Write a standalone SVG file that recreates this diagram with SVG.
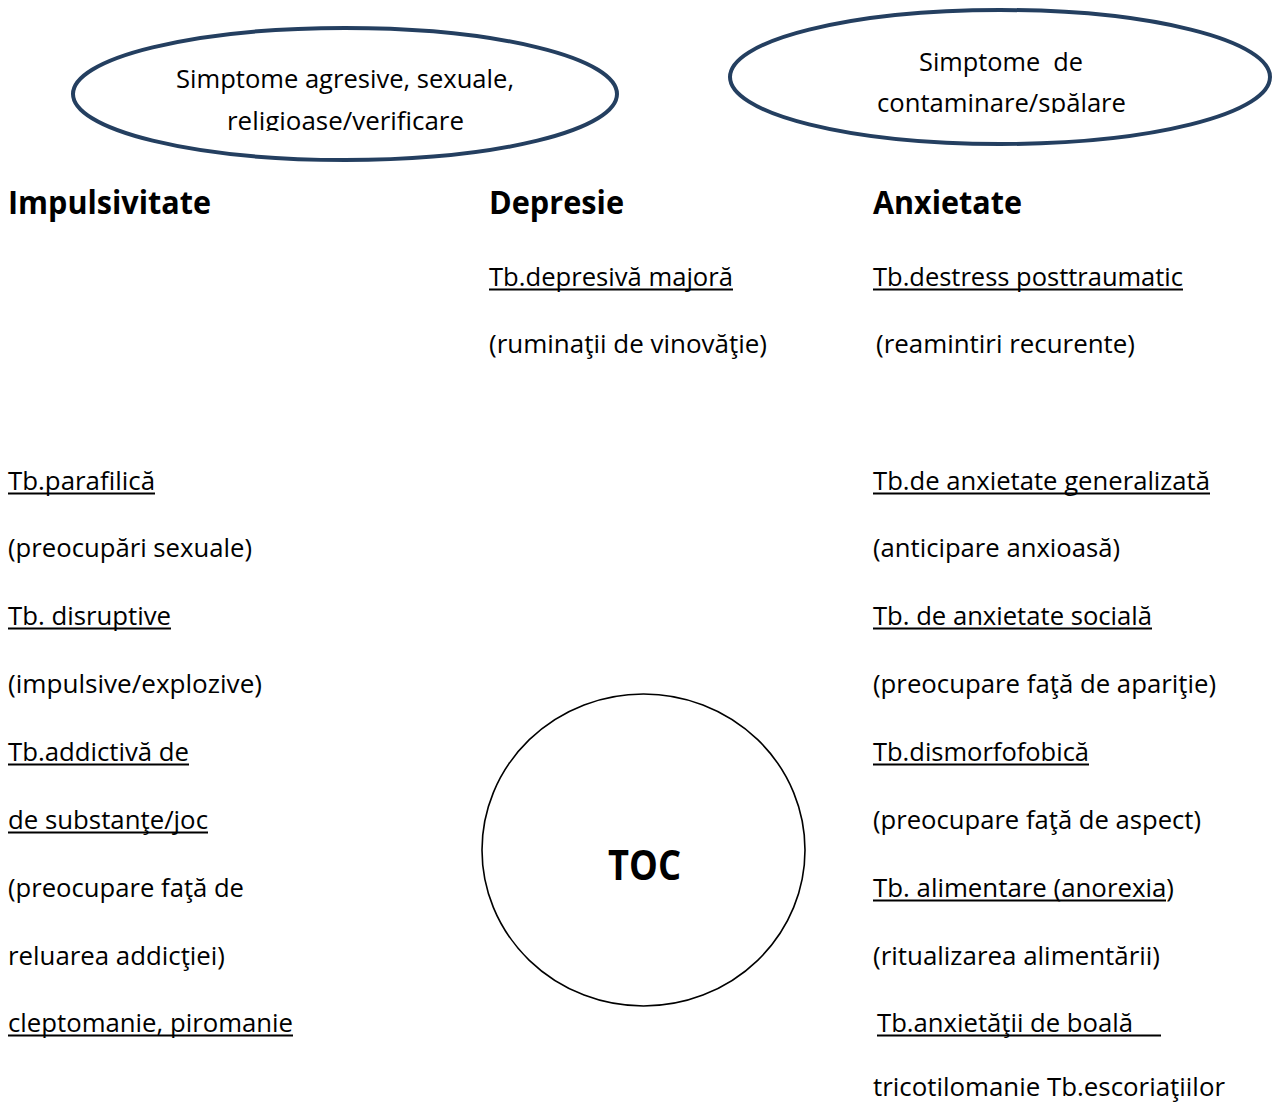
<svg xmlns="http://www.w3.org/2000/svg" width="1273" height="1103" viewBox="0 0 1273 1103">
  <defs>
    <style>
      text { font-family: "Open Sans", "Noto Sans", "Liberation Sans", sans-serif; fill: #000; white-space: pre; }
      .t { font-size: 25px; }
      .h { font-size: 32px; font-weight: bold; }
      .toc { font-size: 42px; font-weight: bold; }
      .ov { fill: #fff; stroke: #243f60; stroke-width: 4; }
      .ring { fill: #fff; stroke: #000; stroke-width: 1.6; }
      .ul { stroke: #000; stroke-width: 2; }
    </style>
    <clipPath id="clipA"><rect x="80" y="40" width="530" height="91"/></clipPath>
    <clipPath id="clipB"><rect x="740" y="25" width="520" height="88"/></clipPath>
  </defs>

  <rect width="1273" height="1103" fill="#fff"/>

  <!-- symptom ovals -->
  <g id="oval-agresive">
    <ellipse class="ov" cx="345" cy="94" rx="272" ry="66"/>
    <g clip-path="url(#clipA)">
      <text class="t" x="176" y="88" textLength="338" lengthAdjust="spacingAndGlyphs">Simptome agresive, sexuale,</text>
      <text class="t" x="227" y="130" textLength="237" lengthAdjust="spacingAndGlyphs">religioase/verificare</text>
    </g>
  </g>
  <g id="oval-contaminare">
    <ellipse class="ov" cx="1000" cy="77" rx="270" ry="67"/>
    <g clip-path="url(#clipB)">
      <text class="t" x="919" y="71" textLength="164" lengthAdjust="spacingAndGlyphs" xml:space="preserve">Simptome  de</text>
      <text class="t" x="877" y="112" textLength="249" lengthAdjust="spacingAndGlyphs">contaminare/spălare</text>
    </g>
  </g>

  <!-- column headings -->
  <g id="heading-impulsivitate"><text class="h" x="8" y="214" textLength="203" lengthAdjust="spacingAndGlyphs">Impulsivitate</text></g>
  <g id="heading-depresie"><text class="h" x="489" y="214" textLength="135" lengthAdjust="spacingAndGlyphs">Depresie</text></g>
  <g id="heading-anxietate"><text class="h" x="873" y="214" textLength="149" lengthAdjust="spacingAndGlyphs">Anxietate</text></g>

  <!-- depression column -->
  <g id="depresie-majora">
    <text class="t" x="489" y="286" textLength="244" lengthAdjust="spacingAndGlyphs">Tb.depresivă majoră</text>
    <line class="ul" x1="489" y1="289.5" x2="733" y2="289.5"/>
    <text class="t" x="489" y="353" textLength="278" lengthAdjust="spacingAndGlyphs">(ruminaţii de vinovăţie)</text>
  </g>

  <!-- impulsivity column -->
  <g id="impulsivitate-list">
    <text class="t" x="8" y="490" textLength="147" lengthAdjust="spacingAndGlyphs">Tb.parafilică</text>
    <line class="ul" x1="8" y1="493.5" x2="155" y2="493.5"/>
    <text class="t" x="8" y="557" textLength="244" lengthAdjust="spacingAndGlyphs">(preocupări sexuale)</text>
    <text class="t" x="8" y="625" textLength="163" lengthAdjust="spacingAndGlyphs">Tb. disruptive</text>
    <line class="ul" x1="8" y1="628.5" x2="171" y2="628.5"/>
    <text class="t" x="8" y="693" textLength="254" lengthAdjust="spacingAndGlyphs">(impulsive/explozive)</text>
    <text class="t" x="8" y="761" textLength="181" lengthAdjust="spacingAndGlyphs">Tb.addictivă de</text>
    <line class="ul" x1="8" y1="764.5" x2="189" y2="764.5"/>
    <text class="t" x="8" y="829" textLength="200" lengthAdjust="spacingAndGlyphs">de substanţe/joc</text>
    <line class="ul" x1="8" y1="832.5" x2="208" y2="832.5"/>
    <text class="t" x="8" y="897" textLength="236" lengthAdjust="spacingAndGlyphs">(preocupare faţă de</text>
    <text class="t" x="8" y="965" textLength="217" lengthAdjust="spacingAndGlyphs">reluarea addicţiei)</text>
    <text class="t" x="8" y="1032" textLength="285" lengthAdjust="spacingAndGlyphs">cleptomanie, piromanie</text>
    <line class="ul" x1="8" y1="1035.5" x2="293" y2="1035.5"/>
  </g>

  <!-- anxiety column -->
  <g id="anxietate-list">
    <text class="t" x="873" y="286" textLength="310" lengthAdjust="spacingAndGlyphs">Tb.destress posttraumatic</text>
    <line class="ul" x1="873" y1="289.5" x2="1183" y2="289.5"/>
    <text class="t" x="876" y="353" textLength="259" lengthAdjust="spacingAndGlyphs">(reamintiri recurente)</text>
    <text class="t" x="873" y="490" textLength="337" lengthAdjust="spacingAndGlyphs">Tb.de anxietate generalizată</text>
    <line class="ul" x1="873" y1="493.5" x2="1210" y2="493.5"/>
    <text class="t" x="873" y="557" textLength="247" lengthAdjust="spacingAndGlyphs">(anticipare anxioasă)</text>
    <text class="t" x="873" y="625" textLength="279" lengthAdjust="spacingAndGlyphs">Tb. de anxietate socială</text>
    <line class="ul" x1="873" y1="628.5" x2="1152" y2="628.5"/>
    <text class="t" x="873" y="693" textLength="343" lengthAdjust="spacingAndGlyphs">(preocupare faţă de apariţie)</text>
    <text class="t" x="873" y="761" textLength="216" lengthAdjust="spacingAndGlyphs">Tb.dismorfofobică</text>
    <line class="ul" x1="873" y1="764.5" x2="1089" y2="764.5"/>
    <text class="t" x="873" y="829" textLength="328" lengthAdjust="spacingAndGlyphs">(preocupare faţă de aspect)</text>
    <text class="t" x="873" y="897" textLength="301" lengthAdjust="spacingAndGlyphs">Tb. alimentare (anorexia)</text>
    <line class="ul" x1="873" y1="900.5" x2="1166" y2="900.5"/>
    <text class="t" x="873" y="965" textLength="287" lengthAdjust="spacingAndGlyphs">(ritualizarea alimentării)</text>
    <text class="t" x="877" y="1032" textLength="256" lengthAdjust="spacingAndGlyphs">Tb.anxietăţii de boală</text>
    <line class="ul" x1="877" y1="1035.5" x2="1161" y2="1035.5"/>
    <text class="t" x="873" y="1096" textLength="352" lengthAdjust="spacingAndGlyphs">tricotilomanie Tb.escoriaţiilor</text>
  </g>

  <!-- central disorder -->
  <g id="toc">
    <ellipse class="ring" cx="643.5" cy="850" rx="161.5" ry="156"/>
    <text class="toc" x="608" y="880" textLength="73" lengthAdjust="spacingAndGlyphs">TOC</text>
  </g>

  <g id="connectors"/>
</svg>
